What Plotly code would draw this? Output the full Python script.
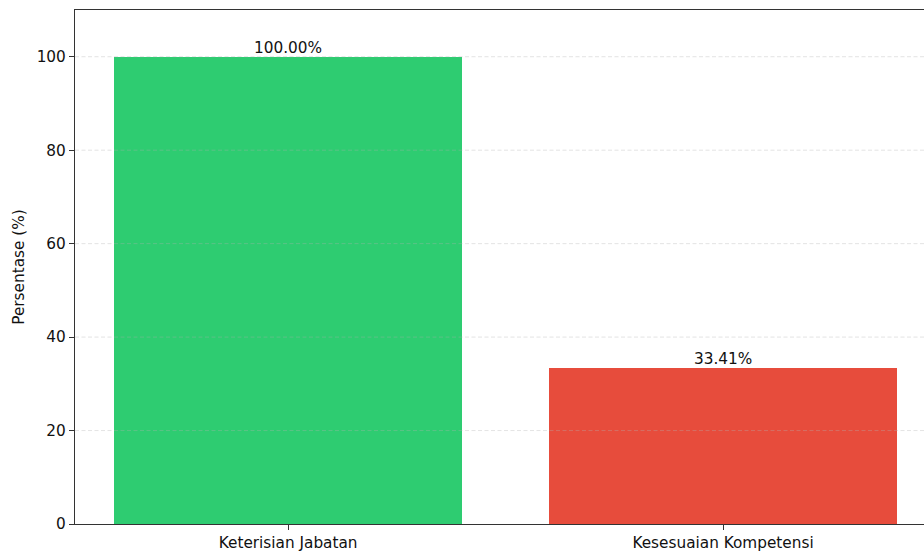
import plotly.graph_objects as go

categories = ["Keterisian Jabatan", "Kesesuaian Kompetensi"]
values = [100.00, 33.41]
colors = ["#2ecc71", "#e74c3c"]
labels = [f"{v:.2f}%" for v in values]
yticks = [0, 20, 40, 60, 80, 100]

FONT = "DejaVu Sans"
FS = 15.3

fig = go.Figure()
fig.add_trace(go.Bar(
    x=[0, 1], y=values, width=0.8,
    marker=dict(color=colors, line=dict(width=0)),
    hoverinfo="skip",
))
for i, (v, t) in enumerate(zip(values, labels)):
    fig.add_annotation(x=i, y=v, text=t, showarrow=False, yanchor="bottom",
                       yshift=-2, font=dict(family=FONT, size=FS, color="#111"))

# grid drawn above the bars, as in the reference
for yt in yticks[1:]:
    fig.add_shape(type="line", xref="x domain", yref="y", x0=0, x1=1, y0=yt, y1=yt,
                  layer="above", line=dict(color="rgba(176,176,176,0.35)", width=1, dash="4px,2.5px"))

axis_common = dict(showline=True, linecolor="#333", linewidth=1.2,
                   ticks="outside", ticklen=5, tickcolor="#333", tickwidth=1,
                   tickfont=dict(family=FONT, size=FS, color="#111"),
                   zeroline=False, showgrid=False)
fig.update_xaxes(range=[-0.49, 1.462], tickvals=[0, 1], ticktext=categories,
                 mirror=True, **axis_common)
fig.update_yaxes(range=[0, 110], tickvals=yticks, mirror=False,
                 title=dict(text="Persentase (%)", font=dict(family=FONT, size=FS, color="#111"), standoff=8),
                 **axis_common)
fig.update_layout(width=924, height=551, margin=dict(l=75, r=0, t=10, b=27),
                  plot_bgcolor="white", paper_bgcolor="white", showlegend=False, bargap=0)
fig.write_html("out.html", config={"displayModeBar": False},
               post_script="document.body.style.margin='0';document.body.style.overflow='hidden';"
                           "document.documentElement.style.overflow='hidden';")
